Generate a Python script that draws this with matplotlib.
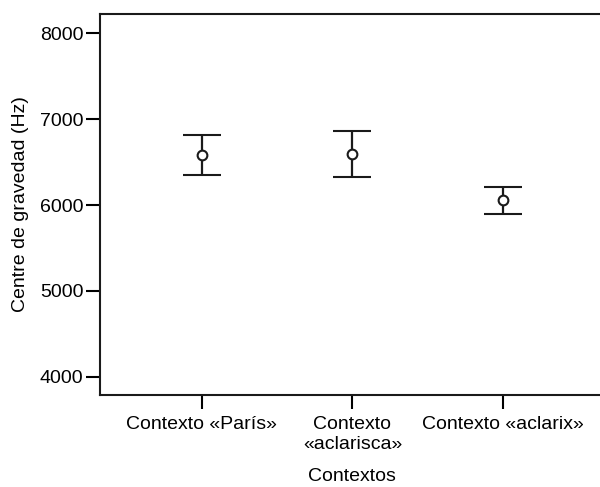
import numpy as np
import matplotlib
matplotlib.use("Agg")
import matplotlib.pyplot as plt

plt.rcParams['font.family'] = ['Liberation Sans', 'DejaVu Sans']

# datos
contextos = ['Contexto «París»', 'Contexto\n«aclarisca»', 'Contexto «aclarix»']
medias = [6586, 6591, 6058]
limite_sup = [6819, 6858, 6213]
limite_inf = [6353, 6323, 5899]

fig = plt.figure(figsize=(6, 4.87), dpi=100)
ax = fig.add_axes([100/600, 1-395/487, 503/600, 381/487])

x = np.arange(len(contextos))
medias = np.array(medias)
err = [medias - np.array(limite_inf), np.array(limite_sup) - medias]

ax.errorbar(x, medias, yerr=err, fmt='o', color='#1a1a1a', mfc='white', mec='#1a1a1a',
            ms=7, mew=1.5, elinewidth=1.6, capsize=13.7, capthick=1.6)

ax.set_xlim(-0.675, 2.663)
ax.set_ylim(3787, 8225)
ax.set_yticks([4000, 5000, 6000, 7000, 8000])
ax.set_xticks(x)
ax.set_xticklabels(contextos, fontsize=14, linespacing=1.25)
ax.tick_params(axis='y', labelsize=14, length=10, width=1.5, pad=2)
ax.tick_params(axis='x', length=10, width=1.5, pad=5)
for s in ax.spines.values():
    s.set_linewidth(1.5)
    s.set_color('#1a1a1a')

ax.set_ylabel('Centre de gravedad (Hz)', fontsize=14, labelpad=8)
ax.set_xlabel('Contextos', fontsize=14, labelpad=11)

fig.savefig('out.png', dpi=100)
